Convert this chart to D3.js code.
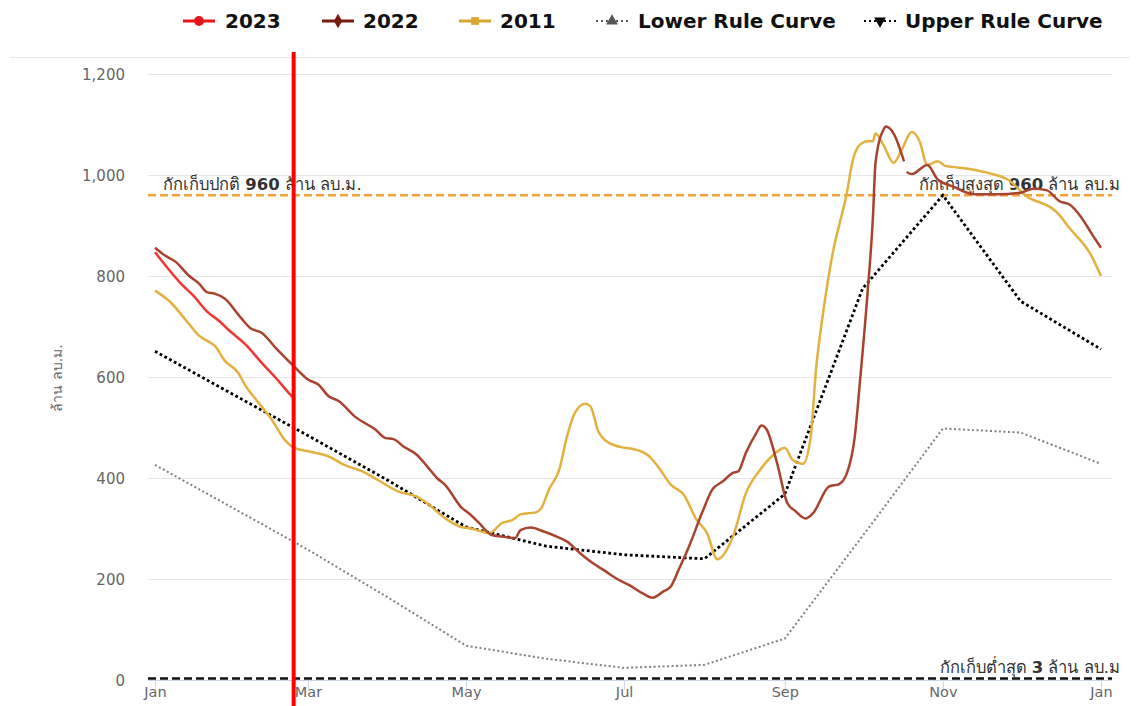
<!DOCTYPE html>
<html>
<head>
<meta charset="utf-8">
<script src="https://cdn.jsdelivr.net/npm/d3@7"></script>
<style>
  body { margin: 0; background: #fff; }
  text { font-family: "DejaVu Sans", "Noto Sans", sans-serif; }
</style>
</head>
<body>
<div class="svgtarget"></div>
<script>
// storage data, day of year -> million m3
var monthDays = [0, 31, 59, 90, 120, 151, 181, 212, 243, 273, 304, 334, 365];
var upperRule = [651, 563, 484, 395, 303, 265, 248, 240, 368, 775, 960, 750, 655];
var lowerRule = [426, 338, 258, 163, 68, 42, 24, 30, 82, 285, 498, 490, 428];

var y2023 = [[0,847],[5,815],[10,785],[15,760],[20,730],[25,710],[28,695],[35,664],[41,629],[47,596],[51,572],[54,555]];

var y2022 = [[0,856],[4,840],[8,828],[13,801],[17,785],[20,768],[23,765],[27,755],[33,718],[37,696],[41,688],[47,655],
  [54,619],[59,595],[63,585],[67,562],[71,552],[77,522],[85,496],[89,479],[92,477],[96,462],[101,446],[105,423],
  [109,399],[112,386],[118,343],[122,326],[125,311],[130,287],[134,284],[139,281],[141,297],[145,302],[150,294],
  [155,284],[159,274],[164,251],[169,231],[173,218],[179,198],[183,188],[188,172],[192,163],[196,175],[199,185],
  [202,218],[206,264],[211,330],[215,377],[219,393],[223,410],[225,413],[228,450],[232,489],[234,504],[236,496],
  [240,430],[244,350],[247,335],[251,320],[254,331],[260,383],[264,388],[267,410],[270,482],[272,591],[275,771],
  [277,916],[278,1024],[281,1089],[282,1096],[285,1082],[289,1027],[289.5,null],[290,1006],[292,1002],[298,1020],
  [302,991],[308,977],[316,962],[325,962],[334,965],[339,973],[344,970],[349,948],[353,941],[357,919],[362,879],[365,856]];

var y2011 = [[0,771],[6,748],[12,712],[17,682],[20,672],[23,662],[27,632],[32,609],[35,582],[39,555],[45,516],[50,476],
  [54,459],[60,452],[67,443],[73,426],[80,413],[86,396],[94,373],[101,363],[105,350],[112,320],[118,303],[122,300],
  [129,291],[134,311],[138,317],[141,328],[147,332],[149,340],[152,377],[156,417],[159,483],[162,529],[166,547],
  [168,542],[171,493],[175,470],[181,460],[184,458],[190,446],[194,423],[199,387],[204,367],[209,317],[213,291],
  [217,239],[223,284],[228,370],[233,413],[238,443],[243,460],[246,436],[250,428],[253,482],[255,612],[258,735],
  [262,858],[264,901],[267,966],[269,1024],[272,1060],[275,1067],[277,1067],[278,1082],[281,1060],[285,1024],
  [288,1049],[292,1085],[295,1067],[298,1020],[302,1027],[305,1018],[313,1013],[323,1002],[329,991],[336,959],
  [348,926],[353,894],[361,843],[365,800]];

var yTicks = [0, 200, 400, 600, 800, 1000, 1200];
var normalLevel = 960, maxLevel = 960, minLevel = 3;
var todayDay = 53.5;

var W = 1138, H = 706;
var svg = d3.select(".svgtarget").append("svg").attr("width", W).attr("height", H);

var start = new Date(2023, 0, 1);
var toDate = function(d) { return new Date(start.getTime() + d * 864e5); };

var x = d3.scaleTime().domain([start, new Date(2024, 0, 1)]).range([155, 1101]);
var y = d3.scaleLinear().domain([0, 1200]).range([680, 74]);
var plotL = 148, plotR = 1112;

// separator under legend
svg.append("line").attr("x1", 10).attr("x2", 1130).attr("y1", 57.5).attr("y2", 57.5)
   .attr("stroke", "#e6e6e6");

// grid
svg.append("g").selectAll("line").data(yTicks.slice(1)).enter().append("line")
   .attr("x1", plotL).attr("x2", plotR)
   .attr("y1", d => y(d) + 0.5).attr("y2", d => y(d) + 0.5)
   .attr("stroke", "#e6e6e6");

var yAxis = svg.append("g").attr("transform", "translate(125,0)")
   .call(d3.axisLeft(y).tickValues(yTicks).tickSize(0).tickPadding(0).tickFormat(d3.format(",")));
yAxis.select(".domain").remove();
yAxis.selectAll("text").attr("fill", "#666").style("font-size", "15px")
     .style("font-family", "DejaVu Sans, sans-serif").attr("dy", "0.35em");

var xAxis = svg.append("g").attr("transform", "translate(0,680)")
   .call(d3.axisBottom(x).ticks(d3.timeMonth.every(2)).tickSize(10).tickFormat(d3.timeFormat("%b")));
xAxis.select(".domain").attr("d", "M" + plotL + ",0.5H" + plotR).attr("stroke", "#ccd6eb");
xAxis.selectAll(".tick line").attr("stroke", "#ccd6eb");
xAxis.selectAll("text").attr("fill", "#666").style("font-size", "14.5px")
     .style("font-family", "DejaVu Sans, sans-serif").attr("dy", "0.3em");

svg.append("text").attr("transform", "translate(62,378) rotate(-90)")
   .attr("text-anchor", "middle").attr("fill", "#666").style("font-size", "14px")
   .text("ล้าน ลบ.ม.");

// plot lines (threshold)
svg.append("line").attr("x1", plotL).attr("x2", plotR).attr("y1", y(normalLevel)).attr("y2", y(normalLevel))
   .attr("stroke", "#f7a035").attr("stroke-width", 2.5).attr("stroke-dasharray", "8,4");
svg.append("line").attr("x1", plotL).attr("x2", plotR).attr("y1", y(minLevel)).attr("y2", y(minLevel))
   .attr("stroke", "#111").attr("stroke-width", 2.5).attr("stroke-dasharray", "8,4");

var lbl = function(anchor, xx, yy, pre, num, post) {
  var t = svg.append("text").attr("x", xx).attr("y", yy).attr("text-anchor", anchor)
     .attr("fill", "#333").style("font-size", "16.5px");
  t.append("tspan").text(pre);
  t.append("tspan").attr("font-weight", "bold").text(num);
  t.append("tspan").text(post);
};
lbl("start", 163, y(normalLevel) - 5, "กักเก็บปกติ ", "960", " ล้าน ลบ.ม.");
lbl("end", 1120, y(maxLevel) - 5, "กักเก็บสูงสุด ", "960", " ล้าน ลบ.ม");
lbl("end", 1120, y(minLevel) - 5, "กักเก็บต่ำสุด ", "3", " ล้าน ลบ.ม");

var line = d3.line().defined(d => d[1] !== null)
   .x(d => x(toDate(d[0]))).y(d => y(d[1])).curve(d3.curveMonotoneX);

var ruleLine = d3.line().x((d, i) => x(toDate(monthDays[i]))).y(d => y(d));

svg.append("path").attr("d", ruleLine(lowerRule)).attr("fill", "none")
   .attr("stroke", "#808080").attr("stroke-width", 2).attr("stroke-dasharray", "2,2.5");
svg.append("path").attr("d", ruleLine(upperRule)).attr("fill", "none")
   .attr("stroke", "#000").attr("stroke-width", 2.8).attr("stroke-dasharray", "2.8,2.6");

var series = [
  {data: y2011, color: "#e3b13f"},
  {data: y2022, color: "#a8432f"},
  {data: y2023, color: "#f23535"}
];
svg.selectAll(".series").data(series).enter().append("path")
   .attr("class", "series").attr("fill", "none")
   .attr("stroke", d => d.color).attr("stroke-width", 2.5)
   .attr("stroke-linejoin", "round")
   .attr("d", d => line(d.data));

// today marker
svg.append("line").attr("x1", x(toDate(todayDay))).attr("x2", x(toDate(todayDay)))
   .attr("y1", 52).attr("y2", 706).attr("stroke", "#ff0000").attr("stroke-width", 4);

// legend
var legend = [
  {name: "2023", color: "#e8141b", x0: 183, tx: 225, sym: "circle", dash: null},
  {name: "2022", color: "#7a1b10", x0: 322, tx: 363, sym: "diamond", dash: null},
  {name: "2011", color: "#d9a731", x0: 459, tx: 500, sym: "square", dash: null},
  {name: "Lower Rule Curve", color: "#555", x0: 596, tx: 638, sym: "triangle", dash: "2,3"},
  {name: "Upper Rule Curve", color: "#000", x0: 864, tx: 905, sym: "triangle-down", dash: "2,3"}
];
var symMap = {circle: d3.symbolCircle, diamond: d3.symbolDiamond, square: d3.symbolSquare,
  triangle: d3.symbolTriangle, "triangle-down": d3.symbolTriangle};
var lg = svg.append("g").selectAll("g").data(legend).enter().append("g");
lg.append("line").attr("x1", d => d.x0).attr("x2", d => d.x0 + 32).attr("y1", 21).attr("y2", 21)
  .attr("stroke", d => d.color).attr("stroke-width", d => d.dash ? 2 : 3)
  .attr("stroke-dasharray", d => d.dash);
lg.append("path")
  .attr("transform", d => "translate(" + (d.x0 + 16) + ",21)" + (d.sym == "triangle-down" ? " rotate(180)" : ""))
  .attr("d", d => d3.symbol().type(symMap[d.sym]).size(d.sym == "circle" ? 75 : 60)())
  .attr("fill", d => d.color);
lg.append("text").attr("x", d => d.tx).attr("y", 28).attr("fill", "#111")
  .style("font-size", "20px").style("font-weight", "bold").text(d => d.name);
</script>
</body>
</html>
